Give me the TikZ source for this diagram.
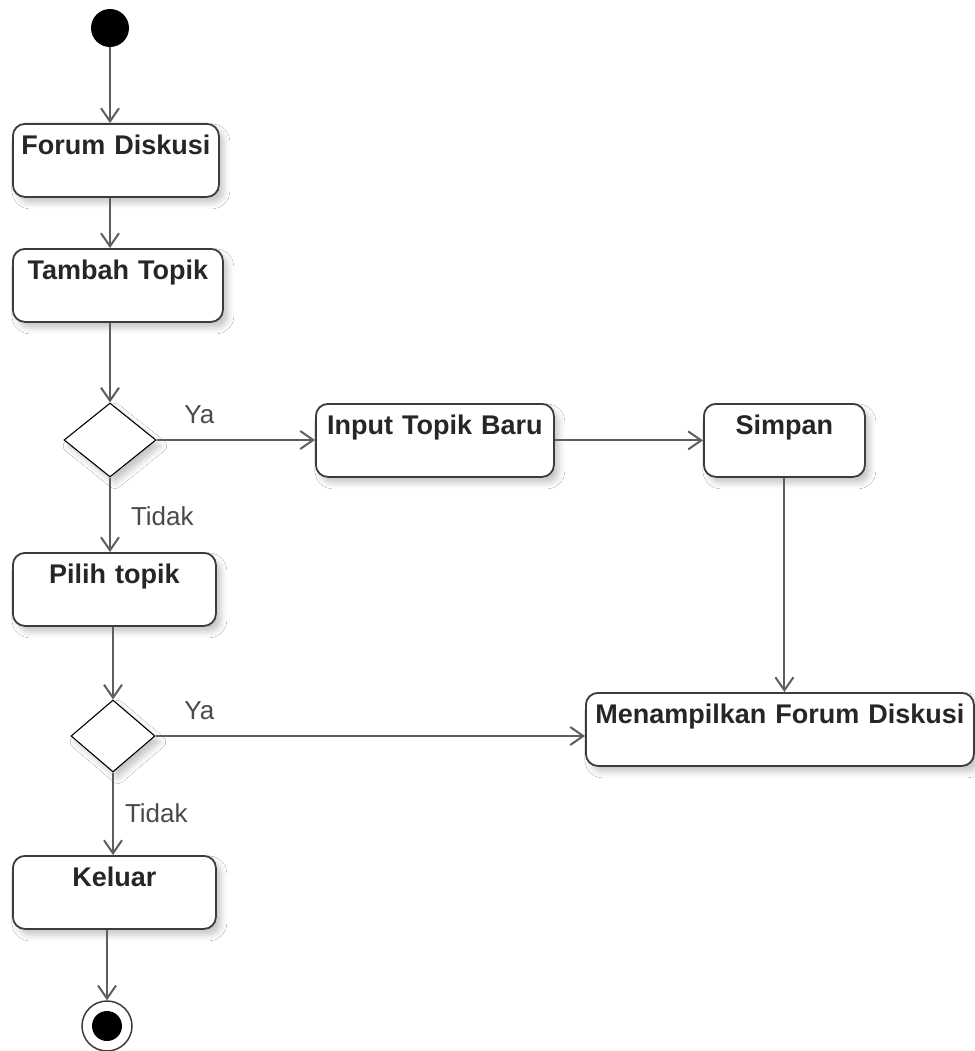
\documentclass[tikz,border=0pt]{standalone}
\usepackage{fontspec}
\setmainfont{Liberation Sans}
\usetikzlibrary{arrows.meta,shapes.geometric,shadows.blur}
\definecolor{boxline}{HTML}{3C3C3C}
\definecolor{flowline}{HTML}{5E5E5E}
\definecolor{boxtext}{HTML}{262626}
\definecolor{guardtext}{HTML}{4A4A4A}
\begin{document}
\begin{tikzpicture}[x=1pt,y=-1pt,
  every node/.style={inner sep=0pt},
  softshadow/.style={blur shadow={shadow xshift=5pt,shadow yshift=-6pt,shadow blur radius=6pt,shadow opacity=22}},
  act/.style={softshadow, draw=boxline, line width=1.8pt, rounded corners=12pt, fill=white,
    anchor=north west, font=\fontsize{27}{32}\selectfont\bfseries, text=boxtext, align=center,
    text height=31pt, text depth=42pt},
  choice/.style={softshadow, diamond, draw=black, line width=1.1pt, fill=white},
  flow/.style={draw=flowline, line width=2pt, -{Straight Barb[length=13pt,width=18pt]}},
  guard/.style={font=\fontsize{26}{30}\selectfont, text=guardtext}
]
\useasboundingbox (0,0) rectangle (974,1051);
\fill[white] (0,0) rectangle (974,1051);

% start and end
\node[circle, fill=black, minimum size=38pt] (start) at (110,28) {};
\node[circle, draw=boxline, line width=1.5pt, fill=white, minimum size=50pt,
  path picture={\fill[black] (path picture bounding box.center) circle (15pt);}] (end) at (107,1026) {};

% actions
\node[act, text width=206pt] (fd)  at (12,123)  {Forum Diskusi};
\node[act, text width=210pt] (tt)  at (12,248)  {Tambah Topik};
\node[act, text width=238pt] (itb) at (315,403) {Input Topik Baru};
\node[act, text width=161pt] (sim) at (703,403) {Simpan};
\node[act, text width=203pt] (pt)  at (12,552)  {Pilih topik};
\node[act, text width=388pt] (men) at (585,692) {Menampilkan Forum Diskusi};
\node[act, text width=203pt] (kel) at (12,855)  {Keluar};

% decisions
\node[choice, minimum width=92pt, minimum height=74pt] (d1) at (110,440) {};
\node[choice, minimum width=84pt, minimum height=72pt] (d2) at (113,736) {};

% flows
\draw[flow] (start.south) -- (fd.north -| start);
\draw[flow] (fd.south -| start) -- (tt.north -| start);
\draw[flow] (tt.south -| d1) -- (d1.north);
\draw[flow] (d1.east) -- node[guard, pos=0.17, anchor=base west, yshift=17pt] {Ya} (d1.east -| itb.west);
\draw[flow] (d1.south) -- node[guard, pos=0.65, anchor=base west, xshift=20pt] {Tidak} (pt.north -| d1);
\draw[flow] (itb.east) -- (sim.west);
\draw[flow] (sim.south) -- (men.north -| sim.south);
\draw[flow] (pt.south -| d2) -- (d2.north);
\draw[flow] (d2.east) -- node[guard, pos=0.065, anchor=base west, yshift=17pt] {Ya} (d2.east -| men.west);
\draw[flow] (d2.south) -- node[guard, pos=0.61, anchor=base west, xshift=11pt] {Tidak} (kel.north -| d2);
\draw[flow] (kel.south -| end) -- (end.north);
\end{tikzpicture}
\end{document}
